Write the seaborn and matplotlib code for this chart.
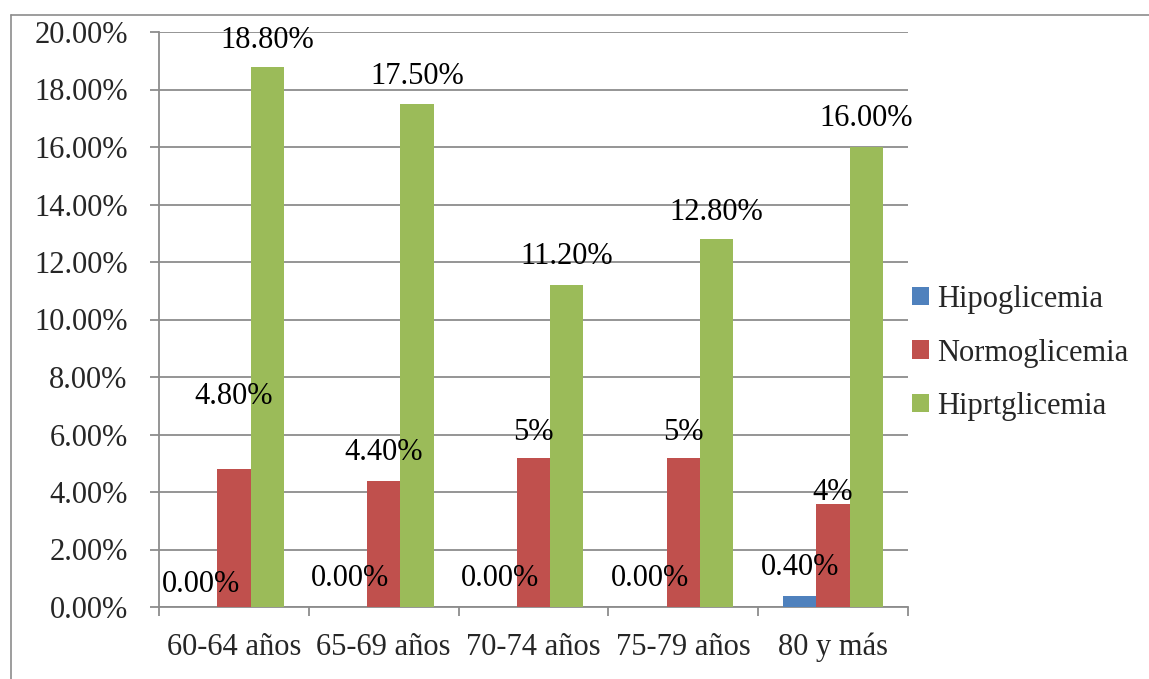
import matplotlib
matplotlib.use("Agg")
import matplotlib.pyplot as plt
from matplotlib.lines import Line2D
from matplotlib.ticker import FuncFormatter, MultipleLocator
import seaborn as sns
import pandas as pd

# Age groups and the share of each glycaemia class (%)
age_groups = ["60-64 años", "65-69 años", "70-74 años", "75-79 años", "80 y más"]
series_names = ["Hipoglicemia", "Normoglicemia", "Hiprtglicemia"]
hipoglicemia = [0.0, 0.0, 0.0, 0.0, 0.4]
normoglicemia = [4.8, 4.4, 5.2, 5.2, 3.6]
hiperglicemia = [18.8, 17.5, 11.2, 12.8, 16.0]

# Decimals shown in each value label
label_decimals = [
    [2, 2, 2, 2, 2],
    [2, 2, 0, 0, 0],
    [2, 2, 2, 2, 2],
]

# Vertical lift of each label above its bar top, in pixels
label_lift_px = [
    [22, 29, 29, 29, 28],
    [73, 28, 25, 25, 11],
    [26, 27, 29, 27, 28],
]

colors = ["#4F81BD", "#C0504D", "#9BBB59"]
grid_gray = "#8c8c8c"

rows = []
for name, vals in zip(series_names, [hipoglicemia, normoglicemia, hiperglicemia]):
    for g, v in zip(age_groups, vals):
        rows.append({"grupo": g, "serie": name, "valor": v})
df = pd.DataFrame(rows)

sns.set_style("white")
plt.rcParams["font.family"] = ["Liberation Serif", "DejaVu Serif"]
FS = 22

fig = plt.figure(figsize=(11.49, 6.79), dpi=100)
ax = fig.add_axes([159 / 1149, 1 - 607 / 679, (908 - 159) / 1149, (607 - 32) / 679])

sns.barplot(data=df, x="grupo", y="valor", hue="serie", order=age_groups,
            hue_order=series_names, palette=colors, saturation=1,
            width=0.667, gap=0, errorbar=None, ax=ax, zorder=3,
            linewidth=0, edgecolor="none")

ax.set_ylim(0, 20)
ax.set_xlim(-0.5, len(age_groups) - 0.5)
ax.yaxis.set_major_locator(MultipleLocator(2))
ax.yaxis.set_major_formatter(FuncFormatter(lambda v, _: f"{v:.2f}%"))
ax.grid(axis="y", color=grid_gray, linewidth=1.3, zorder=0)
ax.set_axisbelow(True)
ax.set_xlabel("")
ax.set_ylabel("")

for side in ["top", "right"]:
    ax.spines[side].set_visible(False)
for side in ["left", "bottom"]:
    ax.spines[side].set_color(grid_gray)
    ax.spines[side].set_linewidth(1.3)

ax.tick_params(axis="y", which="major", left=True, length=6.5, width=1.3,
               color=grid_gray, pad=16, labelsize=FS)
# category ticks sit between groups; labels sit at group centres
ax.set_xticks(range(len(age_groups)))
ax.set_xticklabels(age_groups)
ax.set_xticks([i - 0.5 for i in range(len(age_groups) + 1)], minor=True)
ax.tick_params(axis="x", which="major", bottom=False, pad=15, labelsize=FS)
ax.tick_params(axis="x", which="minor", bottom=True, length=6.5, width=1.3,
               color=grid_gray)

# value labels
px_to_pt = 72 / fig.dpi
for s, cont in enumerate(ax.containers):
    for i, bar in enumerate(cont):
        h = bar.get_height()
        txt = f"{h:.{label_decimals[s][i]}f}%"
        ax.annotate(txt, (bar.get_x() + bar.get_width() / 2, h),
                    xytext=(0, label_lift_px[s][i] * px_to_pt),
                    textcoords="offset points", ha="center", va="center",
                    fontsize=FS, color="black", zorder=5, annotation_clip=False)

ax.legend(loc="center left", bbox_to_anchor=(900 / 1149, 1 - 353 / 679),
          bbox_transform=fig.transFigure, frameon=False, fontsize=FS,
          handlelength=0.55, handleheight=0.55, handletextpad=0.25,
          labelspacing=0.8, borderaxespad=0)

# outer chart border (top and left edges)
fig.add_artist(Line2D([10.5 / 1149, 1], [1 - 14.5 / 679, 1 - 14.5 / 679],
                      transform=fig.transFigure, color=grid_gray, linewidth=1.2))
fig.add_artist(Line2D([10.5 / 1149, 10.5 / 1149], [0, 1 - 14.5 / 679],
                      transform=fig.transFigure, color=grid_gray, linewidth=1.2))

fig.savefig("out.png", dpi=100)
